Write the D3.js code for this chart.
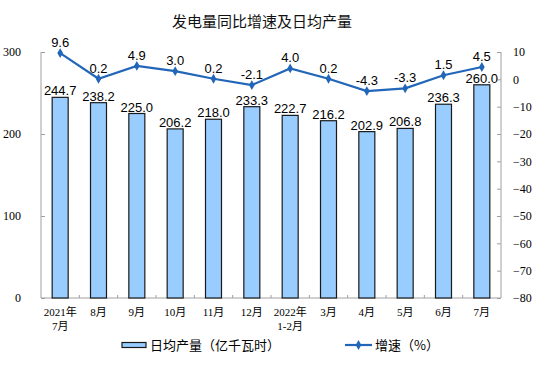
<!DOCTYPE html>
<html><head><meta charset="utf-8">
<script src="https://cdn.jsdelivr.net/npm/d3@7"></script>
<style>
body{margin:0;background:#fff;}
svg{display:block;}
</style></head>
<body>
<svg id="chart" width="550" height="378"></svg>
<script>
const categories = [["2021年","7月"],["8月"],["9月"],["10月"],["11月"],["12月"],["2022年","1-2月"],["3月"],["4月"],["5月"],["6月"],["7月"]];
const output = [244.7,238.2,225.0,206.2,218.0,233.3,222.7,216.2,202.9,206.8,236.3,260.0];
const growth = [9.6,0.2,4.9,3.0,0.2,-2.1,4.0,0.2,-4.3,-3.3,1.5,4.5];
const leftTicks = [0,100,200,300];
const rightTicks = [10,0,-10,-20,-30,-40,-50,-60,-70,-80];
const titleText = "发电量同比增速及日均产量";
const legendBar = "日均产量（亿千瓦时）";
const legendLine = "增速（%）";

const svg = d3.select("#chart");
const L = 41, R = 501, T = 52, B = 298;
const idx = d3.range(categories.length);
const x = d3.scaleBand().domain(idx).range([L, R]).padding(0);
const yL = d3.scaleLinear().domain([0,300]).range([B,T]);
const yR = d3.scaleLinear().domain([-80,10]).range([B,T]);
const axisColor = "#a0a0a0";
const lineColor = "#2166b8";
const barFill = "#99ccff";
const serif = "'Liberation Serif','Times New Roman',serif";
const sans = "'Liberation Sans',Arial,sans-serif";
const cjk = "'Liberation Serif','Noto Sans CJK SC',serif";

svg.append("text").attr("x",262).attr("y",27).attr("text-anchor","middle")
  .attr("font-family","'Noto Sans CJK SC',sans-serif").attr("font-size",15).attr("fill","#111").text(titleText);

// left axis
const gl = svg.append("g").attr("transform",`translate(${L},0)`)
  .call(d3.axisLeft(yL).tickValues(leftTicks).tickSize(-4).tickPadding(20).tickFormat(d3.format("d")));
gl.select(".domain").attr("stroke",axisColor).attr("d",`M0,${T}V${B}`);
gl.selectAll(".tick line").attr("stroke",axisColor);
gl.selectAll(".tick text").attr("font-family",serif).attr("font-size",12).attr("fill","#000");

// right axis
const gr = svg.append("g").attr("transform",`translate(${R},0)`)
  .call(d3.axisRight(yR).tickValues(rightTicks).tickSize(-4).tickPadding(12).tickFormat(d3.format("d")));
gr.select(".domain").attr("stroke",axisColor).attr("d",`M0,${T}V${B}`);
gr.selectAll(".tick line").attr("stroke",axisColor);
gr.selectAll(".tick text").attr("font-family",serif).attr("font-size",12).attr("fill","#000").attr("text-anchor","start");

// x axis baseline + ticks between categories
svg.append("line").attr("x1",L).attr("x2",R).attr("y1",B).attr("y2",B).attr("stroke",axisColor);
svg.selectAll(".xt").data(d3.range(1,categories.length)).join("line")
  .attr("x1",d=>x(d)).attr("x2",d=>x(d)).attr("y1",B).attr("y2",B-3).attr("stroke",axisColor);

// bars
const bw = 16;
svg.selectAll(".bar").data(output).join("rect")
  .attr("x",(d,i)=>x(i)+x.bandwidth()/2-bw/2).attr("width",bw)
  .attr("y",d=>yL(d)).attr("height",d=>B-yL(d))
  .attr("fill",barFill).attr("stroke","#1a1a1a").attr("stroke-width",1.2);
svg.selectAll(".blab").data(output).join("text")
  .attr("x",(d,i)=>x(i)+x.bandwidth()/2).attr("y",d=>yL(d)-2)
  .attr("text-anchor","middle").attr("font-family",sans).attr("font-size",13).attr("fill","#000")
  .text(d=>d.toFixed(1));

// x labels
categories.forEach((c,i)=>{
  c.forEach((s,j)=>{
    svg.append("text").attr("x",x(i)+x.bandwidth()/2).attr("y",316+j*14)
      .attr("text-anchor","middle").attr("font-family",cjk).attr("font-size",11).attr("fill","#000").text(s);
  });
});

// line
const line = d3.line().x((d,i)=>x(i)+x.bandwidth()/2).y(d=>yR(d));
svg.append("path").datum(growth).attr("d",line).attr("fill","none").attr("stroke",lineColor).attr("stroke-width",2.2);
const diamond = d3.symbol().type(d3.symbolDiamond).size(28);
svg.selectAll(".pt").data(growth).join("path")
  .attr("transform",(d,i)=>`translate(${x(i)+x.bandwidth()/2},${yR(d)})`).attr("d",diamond).attr("fill",lineColor);
svg.selectAll(".llab").data(growth).join("text")
  .attr("x",(d,i)=>x(i)+x.bandwidth()/2).attr("y",d=>yR(d)-6)
  .attr("text-anchor","middle").attr("font-family",sans).attr("font-size",13).attr("fill","#000")
  .text(d=>d.toFixed(1));

// legend
const ly = 345;
svg.append("rect").attr("x",122).attr("y",ly-2.5).attr("width",24).attr("height",5)
  .attr("fill",barFill).attr("stroke","#1a1a1a").attr("stroke-width",1.2);
svg.append("text").attr("x",150).attr("y",ly+5).attr("font-family","'Noto Sans CJK SC',sans-serif").attr("font-size",13).attr("fill","#000").text(legendBar);
svg.append("line").attr("x1",345).attr("x2",372).attr("y1",ly).attr("y2",ly).attr("stroke",lineColor).attr("stroke-width",2.2);
svg.append("path").attr("transform",`translate(358.5,${ly})`).attr("d",diamond).attr("fill",lineColor);
svg.append("text").attr("x",375).attr("y",ly+5).attr("font-family","'Noto Sans CJK SC',sans-serif").attr("font-size",13).attr("fill","#000").text(legendLine);
</script>
</body></html>
